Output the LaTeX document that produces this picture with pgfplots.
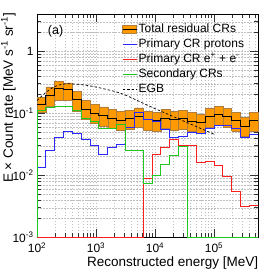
\documentclass[border=0pt]{standalone}
\usepackage{fontspec}
\setmainfont{Liberation Sans}
\usepackage{pgfplots}
\usepackage{pgfplotstable}
\pgfplotsset{compat=1.18}
\definecolor{orfill}{RGB}{255,153,0}
\definecolor{oredge}{RGB}{175,125,60}
\definecolor{pblue}{RGB}{40,40,255}
\definecolor{pred}{RGB}{255,30,30}
\definecolor{pgreen}{RGB}{30,200,30}
\pgfplotstableread{
E c p e s
100 0.001 0.001 0.001 0.001
100 0.137 0.0133 0.001 0.111
141.25 0.193 0.0248 0.001 0.126
199.53 0.248 0.0406 0.001 0.129
281.84 0.240 0.0508 0.001 0.129
398.11 0.165 0.0479 0.001 0.111
562.34 0.116 0.0383 0.001 0.0815
794.33 0.100 0.0298 0.001 0.0738
1122.0 0.092 0.0214 0.001 0.0568
1584.9 0.084 0.028 0.001 0.0568
2238.7 0.077 0.031 0.001 0.065
3162.3 0.0815 0.058 0.001 0.025
4466.8 0.089 0.105 0.001 0.025
6309.6 0.0785 0.0785 0.009 0.0073
8912.5 0.0757 0.0734 0.022 0.0101
12589 0.0836 0.054 0.028 0.0147
17783 0.0785 0.041 0.038 0.0206
25119 0.0815 0.043 0.030 0.029
35481 0.075 0.0497 0.030 0.001
50119 0.070 0.048 0.0163 0.001
70795 0.088 0.0577 0.017 0.001
100000 0.095 0.0635 0.0144 0.001
141254 0.088 0.0635 0.0095 0.001
199526 0.076 0.0577 0.0054 0.001
281838 0.062 0.040 0.0031 0.001
398107 0.076 0.045 0.0032 0.001
562341 0.076 0.045 0.0032 0.001
}\hist
\begin{document}
\begin{tikzpicture}
\useasboundingbox (-37pt,-35.7pt) rectangle (229pt,237.3pt);
\begin{axis}[
  xmode=log, ymode=log,
  scale only axis, width=221.3pt, height=223.3pt,
  xmin=100, xmax=562341, ymin=1e-3, ymax=4,
  log base 10 number format code/.code={\ifdim #1pt=0pt 1\else 10\textsuperscript{\pgfmathprintnumber[assume math mode=true]{#1}}\fi},
  ticklabel style={font=\fontsize{12}{14}\selectfont},
  xticklabel style={inner ysep=0pt, yshift=-5pt},
  yticklabel style={inner ysep=0pt},
  grid=both,
  major grid style={gray!50, line width=0.4pt, dash pattern=on 1.5pt off 1.5pt},
  minor grid style={gray!50, line width=0.4pt, dash pattern=on 1.5pt off 1.5pt},
  tick align=inside, major tick length=8pt, minor tick length=4pt,
  tick style={black!80, line width=0.5pt},
  axis line style={line width=0.6pt},
  xlabel={Reconstructed energy [MeV]},
  ylabel={E × Count rate [MeV s\textsuperscript{-1} sr\textsuperscript{-1}]},
  label style={font=\fontsize{13.5}{16}\selectfont},
  xlabel style={at={(axis description cs:1,-0.13)}, anchor=base east, inner sep=0pt},
  ylabel style={at={(axis description cs:-0.129,1.005)}, anchor=east, rotate=0, inner sep=0pt},
  clip=false,
  unbounded coords=jump,
  legend image code/.code={\draw[#1] (0pt,0pt) -- (14pt,0pt);},
  legend style={at={(axis description cs:0.384,0.966)}, anchor=north west, draw=none, fill=none,
    inner sep=0pt, font=\fontsize{12}{14}\selectfont,
    nodes={inner xsep=1.5pt, inner ysep=1.5pt, text height=9pt, text depth=3pt}},
  legend cell align=left,
]
\addplot[fill=orfill, draw=oredge, line width=0.5pt, forget plot] coordinates {
(100,0.105)(100,0.183)(141.25,0.183)(141.25,0.105)(100,0.105)(100,nan)
(141.25,0.131)(141.25,0.266)(199.53,0.266)(199.53,0.131)(141.25,0.131)(141.25,nan)
(199.53,0.161)(199.53,0.326)(281.84,0.326)(281.84,0.161)(199.53,0.161)(199.53,nan)
(281.84,0.160)(281.84,0.310)(398.11,0.310)(398.11,0.160)(281.84,0.160)(281.84,nan)
(398.11,0.110)(398.11,0.225)(562.34,0.225)(562.34,0.110)(398.11,0.110)(398.11,nan)
(562.34,0.079)(562.34,0.160)(794.33,0.160)(794.33,0.079)(562.34,0.079)(562.34,nan)
(794.33,0.068)(794.33,0.138)(1122.0,0.138)(1122.0,0.068)(794.33,0.068)(794.33,nan)
(1122.0,0.0626)(1122.0,0.127)(1584.9,0.127)(1584.9,0.0626)(1122.0,0.0626)(1122.0,nan)
(1584.9,0.0571)(1584.9,0.116)(2238.7,0.116)(2238.7,0.0571)(1584.9,0.0571)(1584.9,nan)
(2238.7,0.0524)(2238.7,0.106)(3162.3,0.106)(3162.3,0.0524)(2238.7,0.0524)(2238.7,nan)
(3162.3,0.0554)(3162.3,0.1125)(4466.8,0.1125)(4466.8,0.0554)(3162.3,0.0554)(3162.3,nan)
(4466.8,0.0605)(4466.8,0.1228)(6309.6,0.1228)(6309.6,0.0605)(4466.8,0.0605)(4466.8,nan)
(6309.6,0.0534)(6309.6,0.1083)(8912.5,0.1083)(8912.5,0.0534)(6309.6,0.0534)(6309.6,nan)
(8912.5,0.0515)(8912.5,0.1045)(12589,0.1045)(12589,0.0515)(8912.5,0.0515)(8912.5,nan)
(12589,0.0568)(12589,0.1154)(17783,0.1154)(17783,0.0568)(12589,0.0568)(12589,nan)
(17783,0.0534)(17783,0.1083)(25119,0.1083)(25119,0.0534)(17783,0.0534)(17783,nan)
(25119,0.0554)(25119,0.1125)(35481,0.1125)(35481,0.0554)(25119,0.0554)(25119,nan)
(35481,0.051)(35481,0.1035)(50119,0.1035)(50119,0.051)(35481,0.051)(35481,nan)
(50119,0.0476)(50119,0.0966)(70795,0.0966)(70795,0.0476)(50119,0.0476)(50119,nan)
(70795,0.0598)(70795,0.1214)(100000,0.1214)(100000,0.0598)(70795,0.0598)(70795,nan)
(100000,0.0646)(100000,0.1311)(141254,0.1311)(141254,0.0646)(100000,0.0646)(100000,nan)
(141254,0.0598)(141254,0.1214)(199526,0.1214)(199526,0.0598)(141254,0.0598)(141254,nan)
(199526,0.0517)(199526,0.1049)(281838,0.1049)(281838,0.0517)(199526,0.0517)(199526,nan)
(281838,0.0422)(281838,0.0856)(398107,0.0856)(398107,0.0422)(281838,0.0422)(281838,nan)
(398107,0.0517)(398107,0.1049)(562341,0.1049)(562341,0.0517)(398107,0.0517)
};
\addplot[const plot mark left, black, line width=1pt, forget plot, skip coords between index={0}{1}] table[x=E, y=c] {\hist};
\addplot[const plot mark left, pblue, line width=1pt, forget plot] table[x=E, y=p] {\hist};
\addplot[const plot mark left, pred, line width=1pt, forget plot] table[x=E, y=e] {\hist};
\addplot[const plot mark left, pgreen, line width=1pt, forget plot] table[x=E, y=s] {\hist};
\addplot[black, line width=0.7pt, dash pattern=on 2.5pt off 2pt, smooth, forget plot] coordinates {
(100,0.161)(137,0.212)(178,0.254)(231,0.285)(300,0.298)(400,0.298)(660,0.285)(1280,0.252)(2900,0.203)(10000,0.119)(100000,0.046)};
\addlegendimage{legend image code/.code={\draw[fill=orfill, draw=oredge, line width=0.5pt] (0pt,-4pt) rectangle (14pt,4pt); \draw[black, line width=1pt] (0pt,0pt) -- (14pt,0pt);}}
\addlegendentry{Total residual CRs}
\addlegendimage{pblue, line width=1pt}
\addlegendentry{Primary CR protons}
\addlegendimage{pred, line width=1pt}
\addlegendentry{Primary CR e\textsuperscript{+} + e\textsuperscript{-}}
\addlegendimage{pgreen, line width=1pt}
\addlegendentry{Secondary CRs}
\addlegendimage{black, line width=0.7pt, dash pattern=on 2.5pt off 2pt}
\addlegendentry{EGB}
\node[font=\fontsize{12.5}{14}\selectfont] at (axis description cs:0.084,0.924) {(a)};
\end{axis}
\end{tikzpicture}
\end{document}
